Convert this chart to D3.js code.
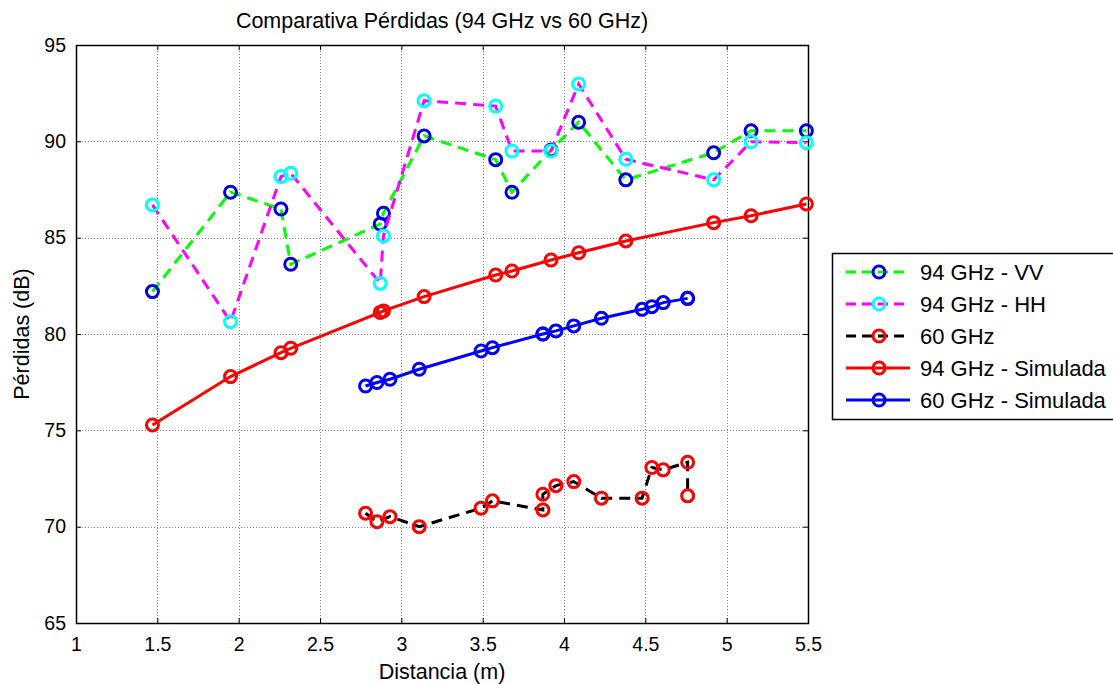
<!DOCTYPE html>
<html>
<head>
<meta charset="utf-8">
<script src="https://cdn.jsdelivr.net/npm/d3@7"></script>
<style>
  html, body { margin: 0; padding: 0; background: #fff; }
  svg { display: block; font-family: "Liberation Sans", Arial, Helvetica, sans-serif; }
</style>
</head>
<body>
<svg id="chart" width="1113" height="684"></svg>
<script>
// Distances (m) for the 94 GHz measurements and simulation
const dist94 = [1.47, 1.95, 2.26, 2.32, 2.87, 2.89, 3.14, 3.58, 3.68, 3.92, 4.09, 4.38, 4.92, 5.15, 5.49];
const loss94VV = [82.2, 87.36, 86.49, 83.62, 85.71, 86.27, 90.28, 89.05, 87.36, 89.55, 90.99, 88.0, 89.41, 90.55, 90.55];
const loss94HH = [86.7, 80.64, 88.17, 88.34, 82.63, 85.09, 92.11, 91.83, 89.5, 89.5, 92.98, 89.07, 88.0, 89.98, 89.93];
const loss94Sim = [75.28, 77.79, 79.03, 79.26, 81.12, 81.2, 81.94, 83.06, 83.27, 83.84, 84.22, 84.83, 85.78, 86.14, 86.75];

// Distances (m) for the 60 GHz measurements and simulation
const dist60 = [2.78, 2.85, 2.93, 3.11, 3.49, 3.56, 3.87, 3.87, 3.95, 4.06, 4.23, 4.48, 4.54, 4.61, 4.76, 4.76];
const loss60 = [70.70, 70.26, 70.52, 70.0, 70.96, 71.34, 70.87, 71.68, 72.13, 72.34, 71.48, 71.48, 73.07, 72.95, 73.34, 71.6];
const loss60Sim = [77.30, 77.48, 77.65, 78.17, 79.12, 79.29, 80.0, 80.0, 80.16, 80.42, 80.82, 81.28, 81.42, 81.63, 81.85, 81.85];

// Axis ticks
const xTicks = [1, 1.5, 2, 2.5, 3, 3.5, 4, 4.5, 5, 5.5];
const yTicks = [65, 70, 75, 80, 85, 90, 95];

const seriesNames = ["94 GHz - VV", "94 GHz - HH", "60 GHz", "94 GHz - Simulada", "60 GHz - Simulada"];

const series = [
  { name: seriesNames[0], x: dist94, y: loss94VV, line: "#00ff00", marker: "#0000e0", dash: "11,7" },
  { name: seriesNames[1], x: dist94, y: loss94HH, line: "#ff00ff", marker: "#00ffff", dash: "11,7" },
  { name: seriesNames[2], x: dist60, y: loss60, line: "#000000", marker: "#ff0000", dash: "11,7" },
  { name: seriesNames[3], x: dist94, y: loss94Sim, line: "#ff0000", marker: "#ff0000", dash: null },
  { name: seriesNames[4], x: dist60, y: loss60Sim, line: "#0000ff", marker: "#0000ff", dash: null }
];

const plotL = 76, plotR = 808, plotT = 45, plotB = 623;
const svg = d3.select("#chart");

const x = d3.scaleLinear().domain([1, 5.5]).range([plotL, plotR]);
const y = d3.scaleLinear().domain([65, 95]).range([plotB, plotT]);

// Grid
const grid = svg.append("g").attr("stroke", "#808080").attr("stroke-width", 1).attr("stroke-dasharray", "1,2");
grid.selectAll(".gx").data(xTicks.slice(1, -1)).join("line")
  .attr("x1", d => Math.round(x(d)) + 0.5).attr("x2", d => Math.round(x(d)) + 0.5)
  .attr("y1", plotT).attr("y2", plotB);
grid.selectAll(".gy").data(yTicks.slice(1, -1)).join("line")
  .attr("y1", d => Math.round(y(d)) + 0.5).attr("y2", d => Math.round(y(d)) + 0.5)
  .attr("x1", plotL).attr("x2", plotR);

// Axes (ticks drawn inward on all four sides)
const fmt = d3.format("~g");
const tickLen = 5;
svg.append("g").attr("transform", `translate(0,${plotB})`)
  .call(d3.axisBottom(x).tickValues(xTicks).tickFormat(fmt).tickSizeInner(-tickLen).tickSizeOuter(0).tickPadding(14))
  .call(g => g.select(".domain").remove())
  .call(g => g.selectAll("text").attr("font-size", 19.5).attr("fill", "#000").attr("font-family", "Liberation Sans, Arial, sans-serif"));
svg.append("g").attr("transform", `translate(0,${plotT})`)
  .call(d3.axisTop(x).tickValues(xTicks).tickFormat("").tickSizeInner(-tickLen).tickSizeOuter(0))
  .call(g => g.select(".domain").remove());
svg.append("g").attr("transform", `translate(${plotL},0)`)
  .call(d3.axisLeft(y).tickValues(yTicks).tickFormat(fmt).tickSizeInner(-tickLen).tickSizeOuter(0).tickPadding(10))
  .call(g => g.select(".domain").remove())
  .call(g => g.selectAll("text").attr("font-size", 19.5).attr("fill", "#000").attr("font-family", "Liberation Sans, Arial, sans-serif"));
svg.append("g").attr("transform", `translate(${plotR},0)`)
  .call(d3.axisRight(y).tickValues(yTicks).tickFormat("").tickSizeInner(-tickLen).tickSizeOuter(0))
  .call(g => g.select(".domain").remove());

svg.append("rect")
  .attr("x", plotL + 0.5).attr("y", plotT + 0.5)
  .attr("width", plotR - plotL).attr("height", plotB - plotT)
  .attr("fill", "none").attr("stroke", "#000").attr("stroke-width", 1.5);

// Series
const lineGen = d3.line().x(d => x(d[0])).y(d => y(d[1]));
const plot = svg.append("g");
series.forEach(s => {
  const pts = s.x.map((v, i) => [v, s.y[i]]);
  const g = plot.append("g");
  g.append("path").datum(pts)
    .attr("d", lineGen).attr("fill", "none")
    .attr("stroke", s.line).attr("stroke-width", 3)
    .attr("stroke-dasharray", s.dash);
  g.selectAll("circle").data(pts).join("circle")
    .attr("cx", d => x(d[0])).attr("cy", d => y(d[1])).attr("r", 6)
    .attr("fill", "none").attr("stroke", s.marker).attr("stroke-width", 3);
});

// Labels
svg.append("text").attr("x", (plotL + plotR) / 2).attr("y", 28)
  .attr("text-anchor", "middle").attr("font-size", 21.5).attr("fill", "#000")
  .text("Comparativa Pérdidas (94 GHz vs 60 GHz)");
svg.append("text").attr("x", (plotL + plotR) / 2).attr("y", 679)
  .attr("text-anchor", "middle").attr("font-size", 21.5).attr("fill", "#000")
  .text("Distancia (m)");
svg.append("text").attr("transform", `translate(29,${(plotT + plotB) / 2}) rotate(-90)`)
  .attr("text-anchor", "middle").attr("font-size", 21.5).attr("fill", "#000")
  .text("Pérdidas (dB)");

// Legend
const lg = svg.append("g");
lg.append("rect").attr("x", 832.5).attr("y", 253.5).attr("width", 300).attr("height", 166)
  .attr("fill", "#fff").attr("stroke", "#000").attr("stroke-width", 1.5);
series.forEach((s, i) => {
  const cy = 272 + i * 32;
  lg.append("line").attr("x1", 846).attr("x2", 910).attr("y1", cy).attr("y2", cy)
    .attr("stroke", s.line).attr("stroke-width", 3).attr("stroke-dasharray", s.dash ? "10,6" : null);
  lg.append("circle").attr("cx", 879).attr("cy", cy).attr("r", 6)
    .attr("fill", "none").attr("stroke", s.marker).attr("stroke-width", 3);
  lg.append("text").attr("x", 920).attr("y", cy + 8).attr("font-size", 22).attr("fill", "#000")
    .text(s.name);
});
</script>
</body>
</html>
